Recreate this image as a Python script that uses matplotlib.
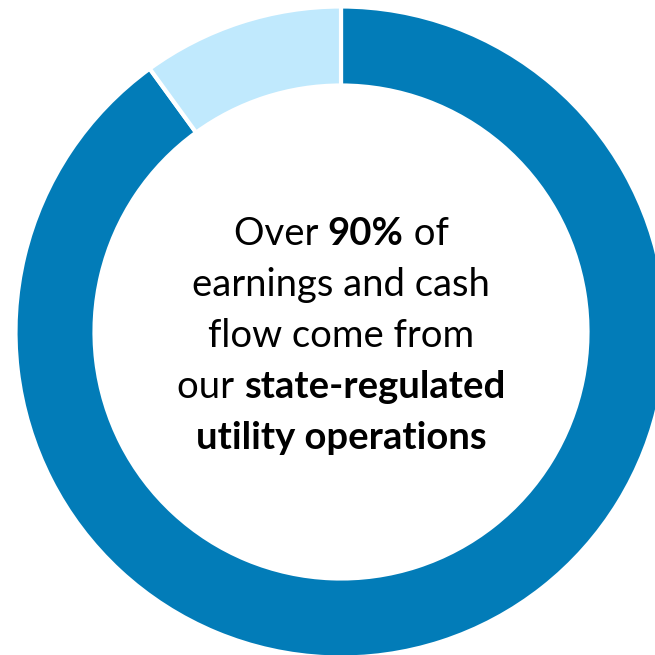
import matplotlib
matplotlib.use("Agg")
import matplotlib.pyplot as plt

# data
labels = ["State-regulated utility operations", "Other"]
shares = [90, 10]
colors = ["#027CB8", "#C0E9FD"]

# centre text, each line is a list of (text, bold) pieces
text_lines = [
    [("Over ", False), ("90%", True), (" of", False)],
    [("earnings and cash", False)],
    [("flow come from", False)],
    [("our ", False), ("state-regulated", True)],
    [("utility operations", True)],
]

FONT = "Lato"
FS = 27.5

fig = plt.figure(figsize=(6.55, 6.55), dpi=100)
ax = fig.add_axes([0, 0, 1, 1])

cx, cy = 341, 655 - 332
ax.pie(shares, colors=colors, startangle=90, counterclock=False,
       radius=325.5, center=(cx, cy), frame=True,
       wedgeprops=dict(width=79, edgecolor="white", linewidth=3))
ax.set_xlim(0, 655)
ax.set_ylim(0, 655)
ax.set_aspect("equal")
ax.axis("off")

renderer = fig.canvas.get_renderer()


def draw_line(pieces, y):
    # measure each piece, then lay them out centred on cx
    widths = []
    for txt, bold in pieces:
        t = ax.text(0, 0, txt.replace(" ", "\u00a0"), fontsize=FS, family=FONT,
                    fontweight="bold" if bold else "normal")
        widths.append(t.get_window_extent(renderer).width)
        t.remove()
    x = cx - sum(widths) / 2
    for (txt, bold), w in zip(pieces, widths):
        ax.text(x, y, txt.replace(" ", "\u00a0"), fontsize=FS, family=FONT,
                fontweight="bold" if bold else "normal",
                ha="left", va="baseline", color="black")
        x += w


baselines = [245, 296, 347, 398, 449]
for pieces, yb in zip(text_lines, baselines):
    draw_line(pieces, 655 - yb)

fig.savefig("out.png", dpi=100)
